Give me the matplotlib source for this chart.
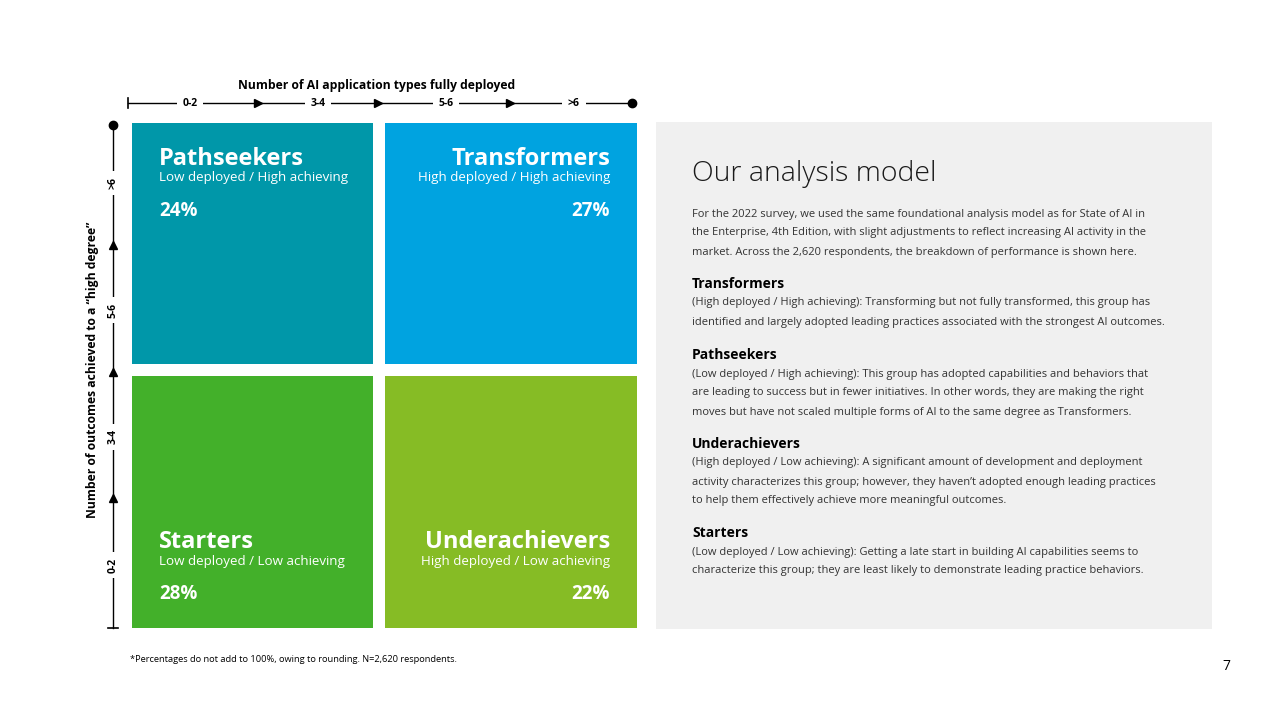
import matplotlib.pyplot as plt
from matplotlib.patches import Rectangle

plt.rcParams['font.family'] = ['Open Sans', 'DejaVu Sans']

segments = ['Pathseekers', 'Transformers', 'Starters', 'Underachievers']
subtitles = ['Low deployed / High achieving', 'High deployed / High achieving',
             'Low deployed / Low achieving', 'High deployed / Low achieving']
shares = [24, 27, 28, 22]
colors = ['#0097A9', '#00A3E0', '#43B02A', '#86BC25']
x_labels = ['0-2', '3-4', '5-6', '>6']
y_labels = ['0-2', '3-4', '5-6', '>6']

intro = ['For the 2022 survey, we used the same foundational analysis model as for State of AI in',
         'the Enterprise, 4th Edition, with slight adjustments to reflect increasing AI activity in the',
         'market. Across the 2,620 respondents, the breakdown of performance is shown here.']
paras = [
    ('Transformers', ['(High deployed / High achieving): Transforming but not fully transformed, this group has',
                      'identified and largely adopted leading practices associated with the strongest AI outcomes.']),
    ('Pathseekers', ['(Low deployed / High achieving): This group has adopted capabilities and behaviors that',
                     'are leading to success but in fewer initiatives. In other words, they are making the right',
                     'moves but have not scaled multiple forms of AI to the same degree as Transformers.']),
    ('Underachievers', ['(High deployed / Low achieving): A significant amount of development and deployment',
                        'activity characterizes this group; however, they haven\u2019t adopted enough leading practices',
                        'to help them effectively achieve more meaningful outcomes.']),
    ('Starters', ['(Low deployed / Low achieving): Getting a late start in building AI capabilities seems to',
                  'characterize this group; they are least likely to demonstrate leading practice behaviors.']),
]

fig = plt.figure(figsize=(12.8, 7.2), dpi=100)
ax = fig.add_axes([0, 0, 1, 1])
ax.set_xlim(0, 1280)
ax.set_ylim(720, 0)
ax.axis('off')

# quadrants: (x, y, w, h, align)
boxes = [(132, 123, 241, 241, 'left'), (385, 123, 252, 241, 'right'),
         (132, 376, 241, 252, 'left'), (385, 376, 252, 252, 'right')]
for (bx, by, bw, bh, al), name, sub, pct, c in zip(boxes, segments, subtitles, shares, colors):
    ax.add_patch(Rectangle((bx, by), bw, bh, color=c, lw=0))
    tx = bx + 27 if al == 'left' else bx + bw - 27
    top = by + 36 if by < 300 else by + 166
    ax.text(tx, top, name, color='white', fontsize=17, fontweight='bold', ha=al, va='center')
    ax.text(tx, top + 19, sub, color='white', fontsize=9.6, ha=al, va='center')
    ax.text(tx, top + 52, f'{pct}%', color='white', fontsize=13.5, fontweight='bold', ha=al, va='center')

# top axis
ax.plot([128, 632], [103, 103], color='black', lw=1)
ax.plot([128, 128], [98, 108], color='black', lw=1.2)
ax.plot(632, 103, 'o', color='black', ms=6)
for xa in [258, 378, 510]:
    ax.plot(xa, 103, marker='>', color='black', ms=6)
for xl, lab in zip([190, 318, 446, 574], x_labels):
    ax.text(xl, 103, lab, fontsize=7.5, fontweight='bold', ha='center', va='center',
            bbox=dict(facecolor='white', edgecolor='none', pad=4))
ax.text(377, 86, 'Number of AI application types fully deployed', fontsize=8.7,
        fontweight='bold', ha='center', va='center')

# left axis
ax.plot([113, 113], [125, 628], color='black', lw=1)
ax.plot([108, 118], [628, 628], color='black', lw=1.2)
ax.plot(113, 125, 'o', color='black', ms=6)
for ya in [245, 372, 498]:
    ax.plot(113, ya, marker='^', color='black', ms=6)
for yl, lab in zip([565, 437, 310, 183], y_labels):
    ax.text(113, yl, lab, fontsize=7.5, fontweight='bold', ha='center', va='center', rotation=90,
            bbox=dict(facecolor='white', edgecolor='none', pad=4))
ax.text(93, 370, 'Number of outcomes achieved to a \u201chigh degree\u201d', fontsize=8.7,
        fontweight='bold', ha='center', va='center', rotation=90)

# right panel
ax.add_patch(Rectangle((656, 122), 556, 507, color='#F0F0F0', lw=0))
ax.text(692, 174, 'Our analysis model', fontsize=20.5, fontweight='light', ha='left', va='center', color='#1a1a1a')
for i, line in enumerate(intro):
    ax.text(692, 214 + 19 * i, line, fontsize=8.0, ha='left', va='center', color='#333333')
ys = [284, 355, 444, 533]
for y0, (h, body) in zip(ys, paras):
    ax.text(692, y0, h, fontsize=10, fontweight='bold', ha='left', va='center', color='black')
    for i, line in enumerate(body):
        ax.text(692, y0 + 19 * (i + 1), line, fontsize=8.0, ha='left', va='center', color='#333333')

ax.text(130, 660, '*Percentages do not add to 100%, owing to rounding. N=2,620 respondents.',
        fontsize=6.7, ha='left', va='center')
ax.text(1226, 667, '7', fontsize=10, ha='center', va='center')

fig.savefig('out.png', dpi=100)
